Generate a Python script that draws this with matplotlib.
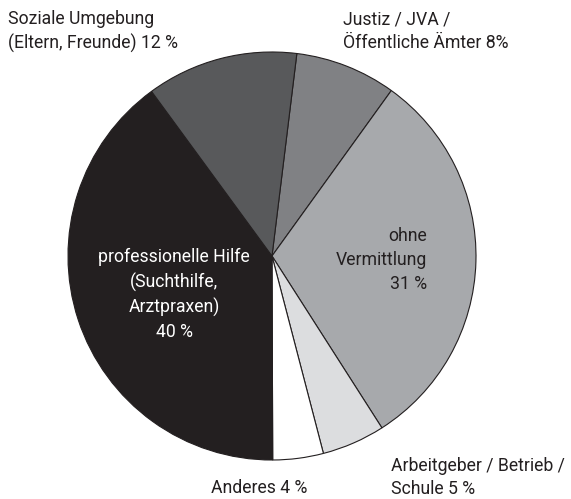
import matplotlib
matplotlib.use("Agg")
import matplotlib.pyplot as plt

categories = ["Justiz / JVA /\nÖffentliche Ämter 8%", "ohne Vermittlung 31 %",
              "Arbeitgeber / Betrieb /\nSchule 5 %", "Anderes 4 %",
              "professionelle Hilfe (Suchthilfe, Arztpraxen) 40 %",
              "Soziale Umgebung\n(Eltern, Freunde) 12 %"]
values = [8, 31, 5, 4, 40, 12]
colors = ["#808184", "#a7a9ac", "#dcdddf", "#ffffff", "#231f20", "#58595b"]

W, H = 571, 499
fig = plt.figure(figsize=(W / 100, H / 100), dpi=100)
ax = fig.add_axes([0, 0, 1, 1])

ax.pie(values, colors=colors, startangle=83, counterclock=False,
       center=(272, H - 256), radius=204, frame=True,
       wedgeprops=dict(edgecolor="#231f20", linewidth=0.8))
ax.set_xlim(0, W)
ax.set_ylim(0, H)
ax.set_aspect("auto")
ax.axis("off")

font = dict(family="Roboto", fontweight="normal", fontsize=12.7)
dark = "#231f20"

def t(x, y, s, ha="left", color=dark):
    ax.text(x, H - y, s, ha=ha, va="center", color=color, linespacing=1.42, **font)

t(8, 31.5, "Soziale Umgebung\n(Eltern, Freunde) 12 %")
t(343, 31.5, "Justiz / JVA /\nÖffentliche Ämter 8%")
t(427, 260, "ohne\nVermittlung\n31 %", ha="right")
t(174, 294.5, "professionelle Hilfe\n(Suchthilfe,\nArztpraxen)\n40 %", ha="center", color="white")
t(259, 488, "Anderes 4 %", ha="center")
t(391, 477.5, "Arbeitgeber / Betrieb /\nSchule 5 %")

fig.savefig("out.png", dpi=100)
